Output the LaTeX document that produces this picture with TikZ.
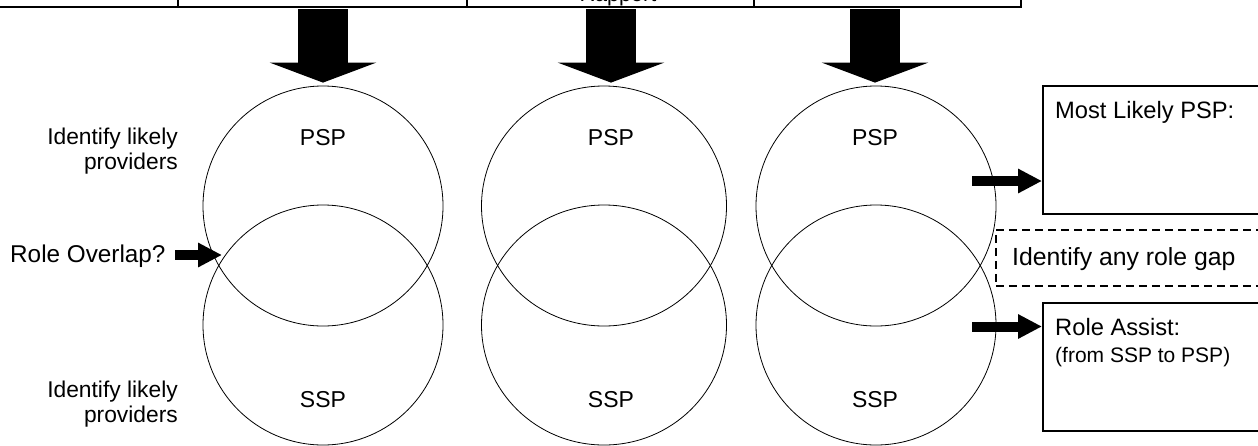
\documentclass[tikz,border=0pt]{standalone}
\usepackage{fontspec}
\setmainfont{Liberation Sans}
\usetikzlibrary{arrows.meta,shapes.geometric}
\begin{document}
\begin{tikzpicture}[x=1pt,y=-1pt,
  ring/.style={draw, ellipse, inner sep=0pt, minimum width=240pt, minimum height=240pt, line width=0.8pt},
  lbl/.style={font=\fontsize{23}{26}\selectfont, inner sep=0pt, anchor=base},
  side/.style={font=\fontsize{22.8}{26}\selectfont, inner sep=0pt, anchor=base east},
  btxt/.style={font=\fontsize{23.7}{26}\selectfont, inner sep=0pt, anchor=base west},
  sbox/.style={draw, line width=1.5pt, inner sep=0pt, anchor=north west, minimum width=228pt, minimum height=128pt},
  gapbox/.style={draw, line width=1.5pt, dash pattern=on 8pt off 5pt, inner sep=0pt, anchor=north west, minimum width=275pt, minimum height=56pt},
  bigarrow/.style={line width=50pt, -{Triangle[length=20pt,width=106pt]}},
  smallarrow/.style={line width=10pt, -{Triangle[length=24pt,width=23pt]}},
  tableline/.style={line width=1.8pt}
]
\useasboundingbox (0,0) rectangle (1258,445);

% table remnant
\draw[tableline] (-5,7) -- (1021,7) -- (1021,-5);
\foreach \xx in {178,467,754} \draw[tableline] (\xx,-5) -- (\xx,7);
\node[font=\fontsize{21.6}{24}\selectfont, inner sep=0pt, anchor=base] (rap) at (618,1.5) {Rapport};

% circles
\node[ring] (p1) at (323,206) {};
\node[ring] (s1) at (323,325) {};
\node[ring, minimum width=245pt] (p2) at (604,206) {};
\node[ring, minimum width=245pt] (s2) at (604,325) {};
\node[ring] (p3) at (876,206) {};
\node[ring] (s3) at (876,325) {};

% circle labels
\node[lbl] (l1) at (323,145) {PSP};
\node[lbl] (l2) at (611,145) {PSP};
\node[lbl] (l3) at (875,145) {PSP};
\node[lbl] (m1) at (323,407) {SSP};
\node[lbl] (m2) at (611,407) {SSP};
\node[lbl] (m3) at (875,407) {SSP};

% side texts
\node[side] (i1) at (178,144) {Identify likely};
\node[side] (i2) at (178,169) {providers};
\node[side] (i3) at (178,397) {Identify likely};
\node[side] (i4) at (178,422) {providers};

% big arrows
\coordinate (a1) at (323,9);
\coordinate (a2) at (611,9);
\coordinate (a3) at (875,9);
\draw[bigarrow] (a1) -- ([yshift=3pt]a1 |- p1.north);
\draw[bigarrow] (a2) -- ([yshift=3pt]a2 |- p2.north);
\draw[bigarrow] (a3) -- ([yshift=3pt]a3 |- p3.north);

% role overlap
\node[font=\fontsize{24.3}{26}\selectfont, inner sep=0pt, anchor=base west] (ro) at (10,262) {Role Overlap?};
\coordinate (ros) at (175,255);
\coordinate (rot) at (222,255);
\draw[smallarrow] (ros) -- (rot);

% right boxes
\node[sbox] (ml) at (1042,85) {};
\node[btxt] (mlt) at (1055,118) {Most Likely PSP:};
\node[gapbox] (gap) at (995,229) {};
\node[font=\fontsize{24.8}{26}\selectfont, inner sep=0pt, anchor=base west] (gapt) at (1012,265) {Identify any role gap};
\node[sbox, minimum height=128pt] (ra) at (1042,302) {};
\node[btxt] (rat) at (1055,335) {Role Assist:};
\node[font=\fontsize{21}{24}\selectfont, inner sep=0pt, anchor=base west] (rat2) at (1055,362) {(from SSP to PSP)};

\coordinate (q1) at (972,181);
\coordinate (q2) at (972,326.5);
\draw[smallarrow] (q1) -- (q1 -| ml.west);
\draw[smallarrow] (q2) -- (q2 -| ra.west);
\end{tikzpicture}
\end{document}
